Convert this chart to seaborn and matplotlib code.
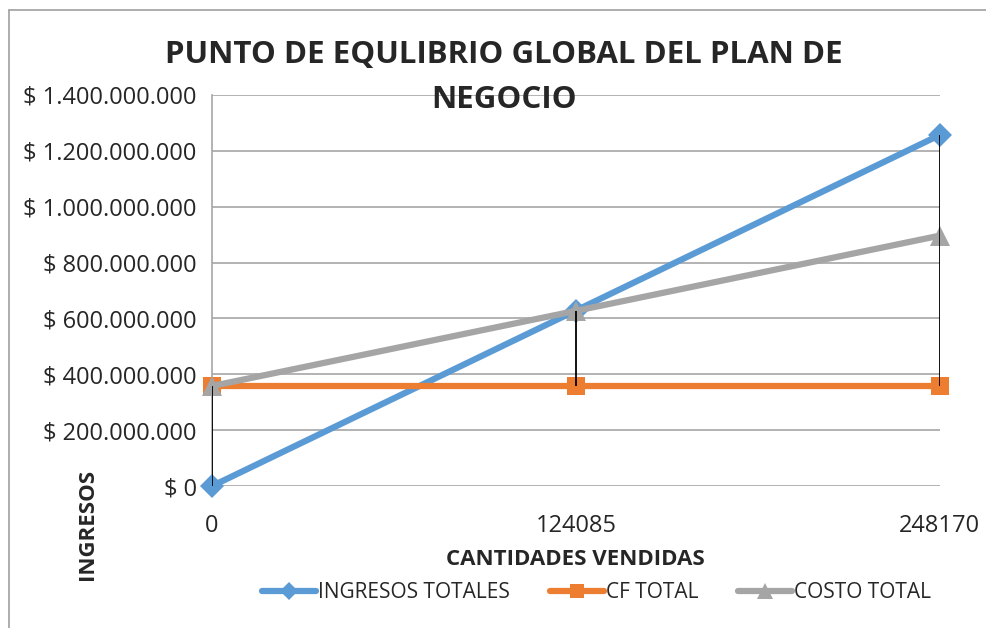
import numpy as np
import pandas as pd
import matplotlib
matplotlib.use('Agg')
import matplotlib.pyplot as plt
import seaborn as sns
from matplotlib.ticker import FuncFormatter, MultipleLocator
from matplotlib.lines import Line2D

sns.set_style('white')
plt.rcParams['font.family'] = ['Open Sans', 'DejaVu Sans']

# data
cantidades = [0, 124085, 248170]
ingresos_totales = [0, 628_000_000, 1_256_000_000]
cf_total = [358_000_000, 358_000_000, 358_000_000]
costo_total = [358_000_000, 627_000_000, 896_000_000]

series = {
    'INGRESOS TOTALES': (ingresos_totales, '#5B9BD5', 'D', 12),
    'CF TOTAL': (cf_total, '#ED7D31', 's', 13),
    'COSTO TOTAL': (costo_total, '#A5A5A5', '^', 14),
}

df = pd.DataFrame({
    'cantidad': np.tile(cantidades, 3),
    'valor': ingresos_totales + cf_total + costo_total,
    'serie': np.repeat(list(series.keys()), 3),
})

fig = plt.figure(figsize=(9.86, 6.28), dpi=100)
ax = fig.add_axes([0.215, 0.226, 0.738, 0.623])

# drop lines from highest to lowest series at each category
hi = df.groupby('cantidad')['valor'].max()
lo = df.groupby('cantidad')['valor'].min()
ax.vlines(hi.index, lo.values, hi.values, color='black', lw=1.3, zorder=4)

for name, (vals, color, marker, ms) in series.items():
    sub = df[df['serie'] == name]
    sns.lineplot(data=sub, x='cantidad', y='valor', ax=ax, color=color, lw=4.5,
                 marker=marker, markersize=ms, markeredgewidth=0, label=name,
                 clip_on=False, zorder=3)

ax.set_xlim(0, 248170)
ax.set_ylim(0, 1_400_000_000)
ax.yaxis.set_major_locator(MultipleLocator(200_000_000))
ax.yaxis.set_major_formatter(FuncFormatter(lambda v, p: '$ ' + f'{v:,.0f}'.replace(',', '.')))
ax.set_xticks(cantidades)
ax.set_xticklabels([str(c) for c in cantidades])
ax.grid(axis='y', color='#A6A6A6', lw=1.2)
ax.set_axisbelow(True)
for s in ['top', 'right', 'bottom']:
    ax.spines[s].set_visible(False)
ax.spines['left'].set_color('#A6A6A6')
ax.spines['left'].set_linewidth(1.2)
ax.tick_params(axis='y', length=7, color='#A6A6A6', labelsize=17, pad=4)
ax.tick_params(axis='x', length=0, labelsize=17, pad=20)
ax.set_xlabel('')
ax.set_ylabel('')

fig.text(0.511, 0.912, 'PUNTO DE EQULIBRIO GLOBAL DEL PLAN DE', ha='center', va='center',
         fontsize=22.5, fontweight='bold')
fig.text(0.511, 0.840, 'NEGOCIO', ha='center', va='center', fontsize=22.5, fontweight='bold')
fig.text(0.584, 0.109, 'CANTIDADES VENDIDAS', ha='center', va='center', fontsize=16, fontweight='bold')
fig.text(0.089, 0.165, 'INGRESOS', ha='center', va='center', rotation=90, fontsize=16, fontweight='bold')

ax.legend(loc='center', bbox_to_anchor=(0.605, 0.056), bbox_transform=fig.transFigure,
          ncol=3, frameon=False, fontsize=15, handlelength=2.6, columnspacing=1.9,
          handletextpad=0.1, markerscale=0.8)

# chart frame: only the left and top edges are visible in the reference
fig.add_artist(Line2D([0.009, 0.009], [0, 0.984], transform=fig.transFigure, color='#A0A0A0', lw=1.2))
fig.add_artist(Line2D([0.009, 1], [0.984, 0.984], transform=fig.transFigure, color='#A0A0A0', lw=1.2))

fig.savefig('out.png', dpi=100)
